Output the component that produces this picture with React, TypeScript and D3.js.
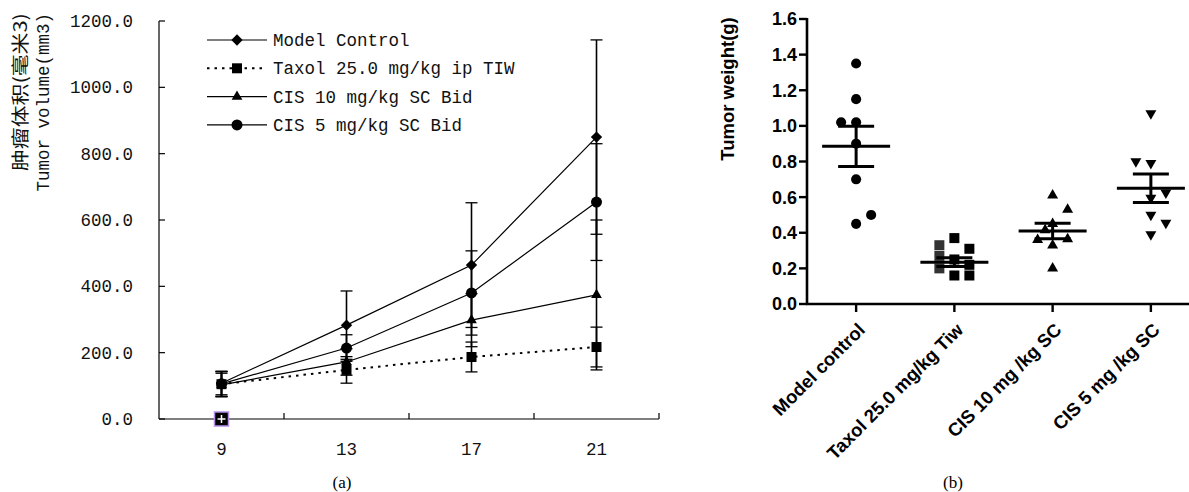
import React from "react";
import * as d3 from "d3";

// ---------- Chart (a) data ----------
const days = [9, 13, 17, 21];
const seriesNames = ["Model Control", "Taxol 25.0 mg/kg ip TIW", "CIS 10 mg/kg SC Bid", "CIS 5 mg/kg SC Bid"];
const modelMean = [108, 283, 464, 850];
const modelErr = [35, 103, 188, 293];
const taxolMean = [105, 148, 187, 217];
const taxolErr = [38, 40, 45, 60];
const cis10Mean = [103, 172, 298, 374];
const cis10Err = [35, 40, 80, 226];
const cis5Mean = [106, 214, 380, 654];
const cis5Err = [38, 40, 127, 176];
const volTicks = [0, 200, 400, 600, 800, 1000, 1200];
const dayTicks = [11, 15, 19, 23];

// ---------- Chart (b) data ----------
const groups = ["Model control", "Taxol 25.0 mg/kg Tiw", "CIS 10 mg /kg SC", "CIS 5 mg /kg SC"];
const modelW = [1.35, 1.15, 1.02, 1.02, 0.9, 0.7, 0.45, 0.5];
const modelLane = [0, 0, -1, 0, 0, 0, 0, 1];
const taxolW = [0.37, 0.31, 0.33, 0.27, 0.2, 0.25, 0.22, 0.16, 0.16];
const taxolLane = [0, 1, -1, -1, -1, 0, 1, 0, 1];
const cis10W = [0.61, 0.53, 0.45, 0.415, 0.36, 0.365, 0.33, 0.2];
const cis10Lane = [0, 1, 0, -0.5, -1, 1, 0, 0];
const cis5W = [1.07, 0.8, 0.79, 0.625, 0.595, 0.5, 0.455, 0.39];
const cis5Lane = [0, -1, 0, 1, 0, 0, 1, 0];
const groupMean = [0.885, 0.235, 0.41, 0.65];
const groupSem = [0.113, 0.025, 0.043, 0.08];
const weightTicks = [0, 0.2, 0.4, 0.6, 0.8, 1.0, 1.2, 1.4, 1.6];

const MONO = "'Liberation Mono', 'DejaVu Sans Mono', monospace";
const CJK = "'Noto Sans CJK SC', sans-serif";
const ARIAL = "'Liberation Sans', Arial, sans-serif";
const SERIF = "'Liberation Serif', 'Times New Roman', serif";

export default function App() {
  // Chart (a) scales
  const xA = d3.scaleLinear().domain([7, 23]).range([159, 659]);
  const yA = d3.scaleLinear().domain([0, 1200]).range([419, 21]);

  const sym = (type: any, size: number) => d3.symbol().type(type).size(size)() as string;
  const diamondPath = sym(d3.symbolSquare, 64);
  const squarePath = sym(d3.symbolSquare, 100);
  const trianglePath = sym(d3.symbolTriangle, 50);
  const circlePath = sym(d3.symbolCircle, 95);

  const series = [
    { name: seriesNames[0], mean: modelMean, err: modelErr, path: diamondPath, rot: 45, dash: "" },
    { name: seriesNames[1], mean: taxolMean, err: taxolErr, path: squarePath, rot: 0, dash: "2.5,5" },
    { name: seriesNames[2], mean: cis10Mean, err: cis10Err, path: trianglePath, rot: 0, dash: "" },
    { name: seriesNames[3], mean: cis5Mean, err: cis5Err, path: circlePath, rot: 0, dash: "" },
  ];

  const lineGen = d3
    .line<number>()
    .x((_, i) => xA(days[i]))
    .y((d) => yA(d));

  // Chart (b) scales
  const xB = d3.scalePoint<string>().domain(groups).range([807, 1200]).padding(0.5);
  const yB = d3.scaleLinear().domain([0, 1.6]).range([304, 19]);
  const lane = 15;

  const circB = sym(d3.symbolCircle, 80);
  const sqB = sym(d3.symbolSquare, 100);
  const triB = sym(d3.symbolTriangle, 52);

  const groupPts = [
    { vals: modelW, lanes: modelLane, path: circB, rot: 0 },
    { vals: taxolW, lanes: taxolLane, path: sqB, rot: 0 },
    { vals: cis10W, lanes: cis10Lane, path: triB, rot: 0 },
    { vals: cis5W, lanes: cis5Lane, path: triB, rot: 180 },
  ];

  const txt = "#111";

  return (
    <svg width={1189} height={492} style={{ position: "absolute", left: 0, top: 0, background: "#fff" }}>
      {/* ================= Chart (a) ================= */}
      <g>
        <line x1={xA(7)} x2={xA(23)} y1={yA(0)} y2={yA(0)} stroke="#000" strokeWidth={1.2} />
        <line x1={xA(7)} x2={xA(7)} y1={yA(0)} y2={yA(1200)} stroke="#000" strokeWidth={1.2} />
        {volTicks.map((t) => (
          <g key={"yt" + t}>
            <line x1={xA(7)} x2={xA(7) + 6} y1={yA(t)} y2={yA(t)} stroke="#000" strokeWidth={1.2} />
            <text x={133} y={yA(t)} dy="0.35em" textAnchor="end" fontFamily={MONO} fontSize={17.5} fill={txt}>
              {t.toFixed(1)}
            </text>
          </g>
        ))}
        {dayTicks.map((t) => (
          <line key={"xt" + t} x1={xA(t)} x2={xA(t)} y1={yA(0)} y2={yA(0) - 6} stroke="#000" strokeWidth={1.2} />
        ))}
        {days.map((d) => (
          <text key={"xl" + d} x={xA(d)} y={455} textAnchor="middle" fontFamily={MONO} fontSize={17.5} fill={txt}>
            {d}
          </text>
        ))}
        <text
          transform={`translate(27,13) rotate(-90)`}
          textAnchor="end"
          fontFamily={CJK}
          fontSize={18}
          textLength={158}
          lengthAdjust="spacingAndGlyphs"
          fill={txt}
        >
          肿瘤体积(毫米3)
        </text>
        <text
          transform={`translate(49,13) rotate(-90)`}
          textAnchor="end"
          fontFamily={MONO}
          fontSize={17.5}
          fill={txt}
        >
          Tumor volume(mm3)
        </text>

        {series.map((s, si) => (
          <path
            key={"ln" + si}
            d={lineGen(s.mean) as string}
            fill="none"
            stroke="#000"
            strokeWidth={s.dash ? 2 : 1.2}
            strokeDasharray={s.dash || undefined}
          />
        ))}
        {series.map((s, si) =>
          s.mean.map((m, i) => (
            <g key={`eb${si}-${i}`}>
              <line x1={xA(days[i])} x2={xA(days[i])} y1={yA(m - s.err[i])} y2={yA(m + s.err[i])} stroke="#000" strokeWidth={1.6} />
              <line x1={xA(days[i]) - 6} x2={xA(days[i]) + 6} y1={yA(m + s.err[i])} y2={yA(m + s.err[i])} stroke="#000" strokeWidth={1.3} />
              <line x1={xA(days[i]) - 6} x2={xA(days[i]) + 6} y1={yA(m - s.err[i])} y2={yA(m - s.err[i])} stroke="#000" strokeWidth={1.3} />
            </g>
          ))
        )}
        {series.map((s, si) =>
          s.mean.map((m, i) => (
            <path
              key={`mk${si}-${i}`}
              d={s.path}
              transform={`translate(${xA(days[i])},${yA(m)}) rotate(${s.rot})`}
              fill="#000"
            />
          ))
        )}
        <g transform={`translate(${xA(days[0])},${yA(0)})`}>
          <rect x={-7} y={-7} width={14} height={14} fill="#000" stroke="#b48ee8" strokeWidth={1.5} />
          <line x1={-4} x2={4} y1={0} y2={0} stroke="#fff" strokeWidth={1.5} />
          <line x1={0} x2={0} y1={-4} y2={4} stroke="#fff" strokeWidth={1.5} />
        </g>

        {series.map((s, si) => {
          const ly = 40 + si * 28.3;
          return (
            <g key={"lg" + si}>
              <line
                x1={207}
                x2={267}
                y1={ly}
                y2={ly}
                stroke="#000"
                strokeWidth={s.dash ? 2 : 1.2}
                strokeDasharray={s.dash || undefined}
              />
              <path d={s.path} transform={`translate(237,${ly}) rotate(${s.rot})`} fill="#000" />
              <text x={273} y={ly} dy="0.35em" fontFamily={MONO} fontSize={17.5} fill={txt}>
                {s.name}
              </text>
            </g>
          );
        })}
        <text x={342} y={488} textAnchor="middle" fontFamily={SERIF} fontSize={17} fill="#000">
          (a)
        </text>
      </g>

      {/* ================= Chart (b) ================= */}
      <g>
        <line x1={807} x2={807} y1={yB(1.6) - 1} y2={yB(0)} stroke="#000" strokeWidth={2.6} />
        <line x1={806} x2={1189} y1={yB(0)} y2={yB(0)} stroke="#000" strokeWidth={2.6} />
        {weightTicks.map((t) => (
          <g key={"wt" + t}>
            <line x1={799} x2={807} y1={yB(t)} y2={yB(t)} stroke="#000" strokeWidth={2.4} />
            <text
              x={797}
              y={yB(t)}
              dy="0.36em"
              textAnchor="end"
              fontFamily={ARIAL}
              fontWeight="bold"
              fontSize={18}
              fill="#000"
            >
              {t.toFixed(1)}
            </text>
          </g>
        ))}
        {groups.map((g) => (
          <g key={"gt" + g}>
            <line x1={xB(g)} x2={xB(g)} y1={yB(0)} y2={yB(0) + 8} stroke="#000" strokeWidth={2.4} />
            <text
              transform={`translate(${(xB(g) as number) + 10},${yB(0) + 27}) rotate(-45)`}
              textAnchor="end"
              fontFamily={ARIAL}
              fontWeight="bold"
              fontSize={18.5}
              fill="#000"
            >
              {g}
            </text>
          </g>
        ))}
        <text
          transform={`translate(734,89) rotate(-90)`}
          textAnchor="middle"
          fontFamily={ARIAL}
          fontWeight="bold"
          fontSize={18.5}
          fill="#000"
        >
          Tumor weight(g)
        </text>

        {groupPts.map((gp, gi) =>
          gp.vals.map((v, i) => (
            <path
              key={`pt${gi}-${i}`}
              d={gp.path}
              transform={`translate(${(xB(groups[gi]) as number) + gp.lanes[i] * lane},${yB(v)}) rotate(${gp.rot})`}
              fill={gi === 1 && gp.lanes[i] === -1 ? "#333" : "#000"}
            />
          ))
        )}
        {groups.map((g, gi) => {
          const cx = xB(g) as number;
          return (
            <g key={"ms" + gi}>
              <line x1={cx - 34} x2={cx + 34} y1={yB(groupMean[gi])} y2={yB(groupMean[gi])} stroke="#000" strokeWidth={3} />
              <line
                x1={cx}
                x2={cx}
                y1={yB(groupMean[gi] - groupSem[gi])}
                y2={yB(groupMean[gi] + groupSem[gi])}
                stroke="#000"
                strokeWidth={3}
              />
              <line
                x1={cx - 18}
                x2={cx + 18}
                y1={yB(groupMean[gi] + groupSem[gi])}
                y2={yB(groupMean[gi] + groupSem[gi])}
                stroke="#000"
                strokeWidth={3}
              />
              <line
                x1={cx - 18}
                x2={cx + 18}
                y1={yB(groupMean[gi] - groupSem[gi])}
                y2={yB(groupMean[gi] - groupSem[gi])}
                stroke="#000"
                strokeWidth={3}
              />
            </g>
          );
        })}
        <text x={953} y={488} textAnchor="middle" fontFamily={SERIF} fontSize={17} fill="#000">
          (b)
        </text>
      </g>
    </svg>
  );
}
